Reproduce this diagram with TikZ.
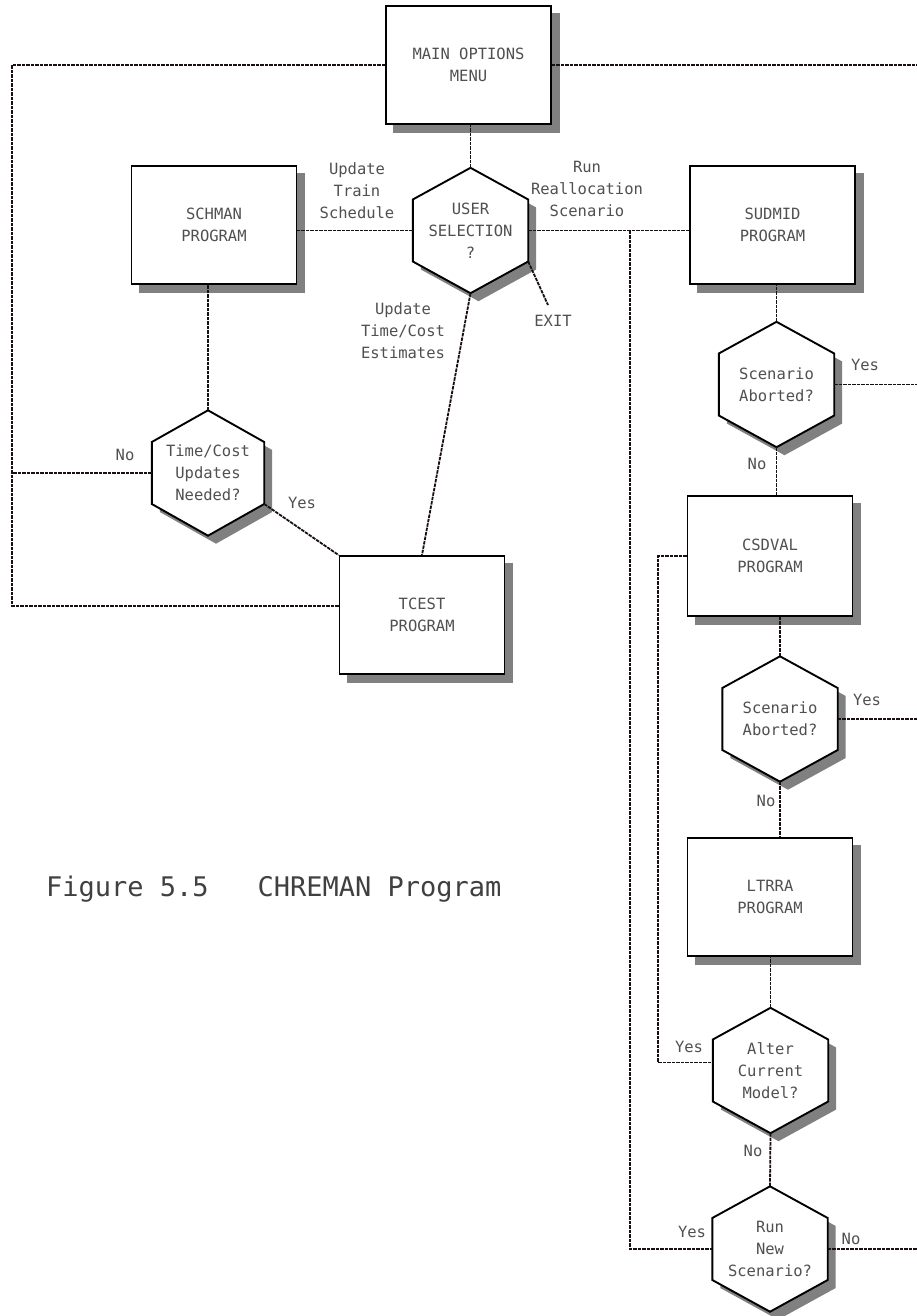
\documentclass[tikz,border=0pt]{standalone}
\usepackage{fontspec}
\newfontfamily\monofont{DejaVu Sans Mono}
\usetikzlibrary{backgrounds}
\definecolor{linec}{RGB}{25,15,15}
\definecolor{shadowc}{RGB}{128,128,128}
\definecolor{txtc}{RGB}{80,80,80}
\tikzset{
  every node/.style={font=\monofont\fontsize{15.5}{22}\selectfont, text=txtc},
  prog/.style={draw=black, line width=1.9pt, fill=white, minimum width=165pt,
    minimum height=118pt, inner sep=0pt, align=center},
  hexa/.style={minimum width=115pt, minimum height=125pt, inner sep=0pt, align=center},
  hexborder/.style={draw=black, line width=1.9pt, fill=white, line join=miter},
  conn/.style={draw=linec, line width=1.8pt, dash pattern=on 3.5pt off 1pt},
  lbl/.style={align=center, inner sep=0pt},
}
\begin{document}
\begin{tikzpicture}[x=1pt, y=-1pt]
\useasboundingbox (0,0) rectangle (917,1316);

% program boxes
\node[prog] (menu)   at (468.5,65)  {MAIN OPTIONS\\MENU};
\node[prog] (schman) at (214,225)   {SCHMAN\\PROGRAM};
\node[prog] (sudmid) at (772.5,225) {SUDMID\\PROGRAM};
\node[prog] (tcest)  at (422,615)   {TCEST\\PROGRAM};
\node[prog, minimum height=120pt] (csdval) at (770,556) {CSDVAL\\PROGRAM};
\node[prog] (ltrra)  at (770,897)   {LTRRA\\PROGRAM};

% decision points (hexagons are drawn behind on the background layer)
\node[hexa] (usr) at (470.5,230.5) {USER\\SELECTION\\?};
\node[hexa, minimum width=112pt] (tcq) at (208,473) {Time/Cost\\Updates\\Needed?};
\node[hexa] (sa1) at (776.5,384.5) {Scenario\\Aborted?};
\node[hexa] (sa2) at (780,719)     {Scenario\\Aborted?};
\node[hexa] (alt) at (770.5,1070.5) {Alter\\Current\\Model?};
\node[hexa] (rns) at (770,1249)    {Run\\New\\Scenario?};

\begin{scope}[on background layer]
  % box shadows
  \foreach \b in {menu,schman,sudmid,tcest,csdval,ltrra}{
    \fill[shadowc] ([shift={(8pt,-8pt)}]\b.south west) rectangle ([shift={(8pt,-8pt)}]\b.north east);
  }
  % hexagon shadows and outlines
  \foreach \n in {usr,tcq,sa1,sa2,alt,rns}{
    \fill[shadowc] ([shift={(8pt,-8pt)}]\n.north) -- ([shift={(8pt,23pt)}]\n.east)
      -- ([shift={(8pt,-39pt)}]\n.east) -- ([shift={(8pt,-8pt)}]\n.south)
      -- ([shift={(8pt,-39pt)}]\n.west) -- ([shift={(8pt,23pt)}]\n.west) -- cycle;
    \draw[hexborder] (\n.north) -- ([yshift=31pt]\n.east) -- ([yshift=-31pt]\n.east)
      -- (\n.south) -- ([yshift=-31pt]\n.west) -- ([yshift=31pt]\n.west) -- cycle;
    \coordinate (\n-se) at ([yshift=-31pt]\n.east);
  }
\end{scope}

% rails and free ends
\coordinate (ltop) at (12,65);
\coordinate (rtop) at (917,65);
\coordinate (br) at (630,230.5);
\coordinate (lloop) at (658,556);
\coordinate (exitend) at (548,305);

% connectors
\draw[conn] (menu.west) -- (ltop) |- ([yshift=9pt]tcest.west);
\draw[conn] (tcq.west) -- (tcq.west -| ltop);
\draw[conn] (menu.east) -- (rtop);
\draw[conn] (usr.north) -- (usr.north |- menu.south);
\draw[conn] (usr.west) -- (usr.west -| schman.east);
\draw[conn] (usr.east) -- (usr.east -| sudmid.west);
\draw[conn] (br) |- (rns.west);
\draw[conn] (tcq.north) -- (tcq.north |- schman.south);
\draw[conn] (tcq-se) -- (tcest.north west);
\draw[conn] (usr.south) -- (tcest.north);
\draw[conn] (usr-se) -- (exitend);
\draw[conn] (sa1.north) -- (sa1.north |- sudmid.south);
\draw[conn] (sa1.east) -- (sa1.east -| rtop);
\draw[conn] (sa1.south) -- (sa1.south |- csdval.north);
\draw[conn] (csdval.west) -- (lloop) |- ([yshift=8pt]alt.west);
\draw[conn] (sa2.north) -- (sa2.north |- csdval.south);
\draw[conn] (sa2.east) -- (sa2.east -| rtop);
\draw[conn] (sa2.south) -- (sa2.south |- ltrra.north);
\draw[conn] (alt.north) -- (alt.north |- ltrra.south);
\draw[conn] (alt.south) -- (rns.north);
\draw[conn] (rns.east) -- (rns.east -| rtop);

% connector labels
\node[lbl] (lsched) at (357,191) {Update\\Train\\Schedule};
\node[lbl] (lrun)   at (587,189) {Run\\Reallocation\\Scenario};
\node[lbl] (lest)   at (403,331) {Update\\Time/Cost\\Estimates};
\node[lbl] (lexit)  at (553,321) {EXIT};
\node[lbl] (ltcno)  at (125,455) {No};
\node[lbl] (ltcyes) at (302,503) {Yes};
\node[lbl] (ls1yes) at (865,365) {Yes};
\node[lbl] (ls1no)  at (757,464) {No};
\node[lbl] (ls2yes) at (867,700) {Yes};
\node[lbl] (ls2no)  at (766,801) {No};
\node[lbl] (laltyes) at (689,1047) {Yes};
\node[lbl] (laltno) at (753,1151) {No};
\node[lbl] (lrnyes) at (692,1232) {Yes};
\node[lbl] (lrnno)  at (851,1239) {No};

% caption
\node[lbl, anchor=west, font=\monofont\fontsize{27}{30}\selectfont, text=black!75] (caption)
  at (46,889) {Figure 5.5\ \ \ CHREMAN Program};
\end{tikzpicture}
\end{document}
